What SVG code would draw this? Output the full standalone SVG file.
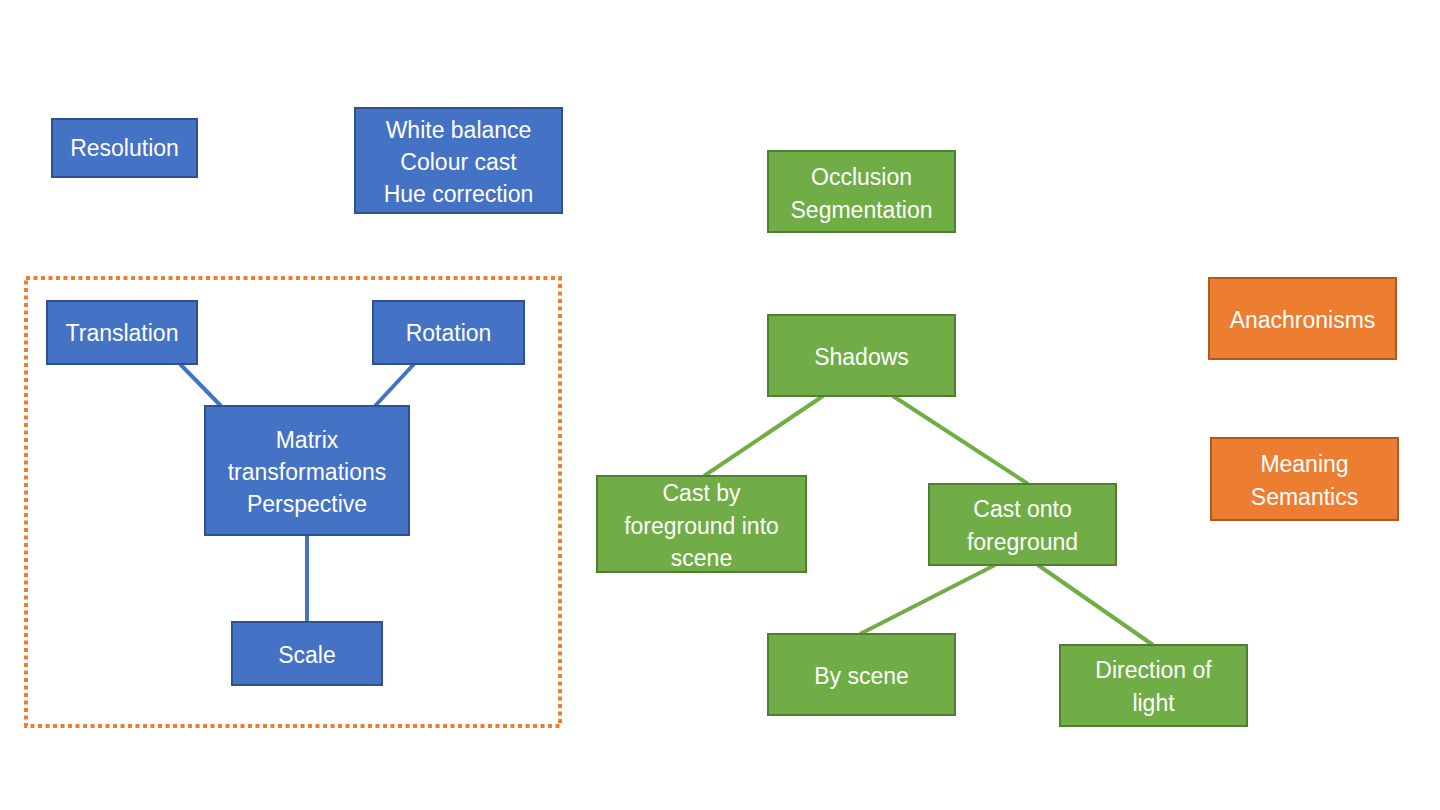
<svg xmlns="http://www.w3.org/2000/svg" width="1440" height="810" viewBox="0 0 1440 810">
<style>
text{font-family:"Liberation Sans","Noto Sans",Arial,sans-serif;font-size:23px;fill:#fff;text-anchor:middle;dominant-baseline:central}
.b{fill:#4472C4;stroke:#2F528F;stroke-width:2}
.g{fill:#70AD47;stroke:#507E32;stroke-width:2}
.o{fill:#ED7D31;stroke:#AE5A21;stroke-width:2}
.cb{stroke:#4472C4;stroke-width:4;fill:none}
.cg{stroke:#70AD47;stroke-width:4;fill:none}
</style>
<rect width="1440" height="810" fill="#fff"/>
<rect id="group-box" x="26" y="278" width="534" height="448" fill="none" stroke="#ED7D31" stroke-width="4" stroke-dasharray="4 3.5"/>
<g id="connectors">
<line class="cb" x1="180" y1="364" x2="221" y2="406"/>
<line class="cb" x1="414" y1="364" x2="375" y2="406"/>
<line class="cb" x1="307" y1="535" x2="307" y2="622"/>
<line class="cg" x1="823" y1="396" x2="704" y2="476"/>
<line class="cg" x1="893" y1="396" x2="1028" y2="484"/>
<line class="cg" x1="995" y1="565" x2="860" y2="634"/>
<line class="cg" x1="1038" y1="565" x2="1153" y2="645"/>
</g>
<g id="resolution"><rect class="b" x="52" y="119" width="145" height="58"/><text x="124.5" y="148">Resolution</text></g>
<g id="white-balance"><rect class="b" x="355" y="108" width="207" height="105"/><text x="458.5" y="130">White balance</text><text x="458.5" y="162">Colour cast</text><text x="458.5" y="194">Hue correction</text></g>
<g id="occlusion"><rect class="g" x="768" y="151" width="187" height="81"/><text x="861.5" y="177">Occlusion</text><text x="861.5" y="210">Segmentation</text></g>
<g id="translation"><rect class="b" x="47" y="301" width="150" height="63"/><text x="122" y="333">Translation</text></g>
<g id="rotation"><rect class="b" x="373" y="301" width="151" height="63"/><text x="448.5" y="333">Rotation</text></g>
<g id="matrix"><rect class="b" x="205" y="406" width="204" height="129"/><text x="307" y="440">Matrix</text><text x="307" y="472">transformations</text><text x="307" y="504">Perspective</text></g>
<g id="scale"><rect class="b" x="232" y="622" width="150" height="63"/><text x="307" y="655">Scale</text></g>
<g id="shadows"><rect class="g" x="768" y="315" width="187" height="81"/><text x="861.5" y="357">Shadows</text></g>
<g id="cast-by"><rect class="g" x="597" y="476" width="209" height="96"/><text x="701.5" y="493">Cast by</text><text x="701.5" y="526">foreground into</text><text x="701.5" y="558">scene</text></g>
<g id="cast-onto"><rect class="g" x="929" y="484" width="187" height="81"/><text x="1022.5" y="509">Cast onto</text><text x="1022.5" y="542">foreground</text></g>
<g id="by-scene"><rect class="g" x="768" y="634" width="187" height="81"/><text x="861.5" y="676">By scene</text></g>
<g id="direction"><rect class="g" x="1060" y="645" width="187" height="81"/><text x="1153.5" y="670">Direction of</text><text x="1153.5" y="703">light</text></g>
<g id="anachronisms"><rect class="o" x="1209" y="278" width="187" height="81"/><text x="1302.5" y="320">Anachronisms</text></g>
<g id="meaning"><rect class="o" x="1211" y="438" width="187" height="82"/><text x="1304.5" y="464">Meaning</text><text x="1304.5" y="497">Semantics</text></g>
</svg>
